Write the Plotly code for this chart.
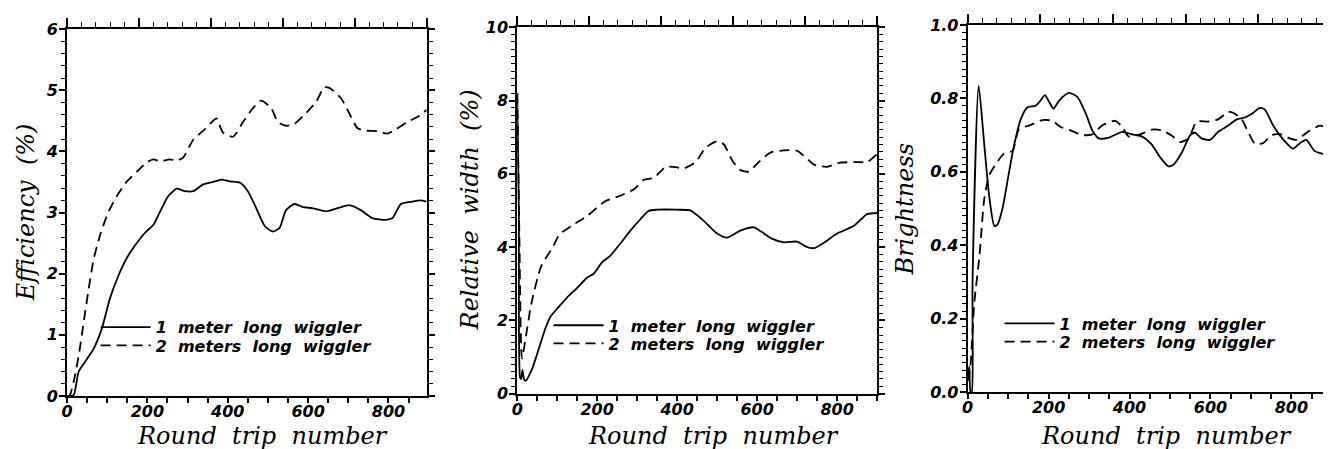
import plotly.graph_objects as go

# ---------------- data ----------------
# Panel 1: Efficiency (%)
eff_1m_x = [0, 10, 17, 29, 45, 66, 87, 107, 128, 149, 169, 194, 215, 231, 252, 273, 293, 314, 339, 364,
            384, 405, 430, 450, 471, 492, 512, 529, 545, 566, 587, 612, 645, 678, 702, 731, 760, 793,
            810, 831, 860, 880, 895]
eff_1m_y = [0, 0, 0.02, 0.40, 0.56, 0.77, 1.11, 1.60, 1.97, 2.26, 2.46, 2.67, 2.80, 3.01, 3.27, 3.39, 3.35,
            3.35, 3.46, 3.50, 3.54, 3.51, 3.49, 3.35, 3.07, 2.78, 2.69, 2.75, 3.04, 3.14, 3.09, 3.07, 3.02,
            3.08, 3.12, 3.04, 2.91, 2.88, 2.91, 3.14, 3.18, 3.20, 3.18]
eff_2m_x = [0, 6, 17, 29, 41, 54, 66, 83, 103, 124, 149, 174, 198, 215, 231, 256, 273, 289, 314, 339, 360,
            372, 388, 413, 438, 463, 483, 508, 525, 545, 566, 595, 620, 640, 653, 682, 702, 723, 744, 773,
            797, 818, 847, 876, 895]
eff_2m_y = [0, 0, 0.25, 0.66, 1.19, 1.76, 2.23, 2.65, 3.01, 3.27, 3.51, 3.67, 3.82, 3.87, 3.84, 3.87, 3.85,
            3.90, 4.19, 4.34, 4.48, 4.54, 4.31, 4.24, 4.48, 4.71, 4.83, 4.71, 4.48, 4.42, 4.45, 4.63, 4.81,
            5.05, 5.04, 4.87, 4.63, 4.38, 4.34, 4.33, 4.29, 4.36, 4.48, 4.58, 4.68]

# Panel 2: Relative width (%)
wid_1m_x = [0, 4, 7, 10, 13, 17, 21, 37, 54, 71, 83, 104, 125, 150, 175, 192, 212, 233, 258, 283, 308, 329,
            350, 400, 433, 467, 500, 525, 558, 592, 612, 637, 667, 700, 721, 742, 767, 800, 842, 875, 900]
wid_1m_y = [8.2, 5.0, 0.45, 0.40, 0.65, 0.40, 0.35, 0.67, 1.23, 1.80, 2.10, 2.37, 2.63, 2.89, 3.17, 3.28, 3.58,
            3.77, 4.10, 4.45, 4.76, 4.99, 5.02, 5.02, 5.00, 4.71, 4.37, 4.26, 4.45, 4.54, 4.41, 4.23, 4.13,
            4.15, 4.02, 3.97, 4.12, 4.37, 4.58, 4.90, 4.93]
wid_2m_x = [0, 5, 10, 12, 35, 60, 89, 106, 135, 177, 218, 250, 292, 317, 342, 371, 392, 417, 446, 471, 500,
            517, 537, 558, 579, 600, 633, 667, 700, 721, 742, 775, 804, 850, 875, 900]
wid_2m_y = [8.2, 4.6, 1.2, 0.96, 2.44, 3.48, 4.00, 4.35, 4.57, 4.87, 5.24, 5.37, 5.58, 5.84, 5.89, 6.19, 6.19,
            6.15, 6.32, 6.71, 6.89, 6.80, 6.38, 6.10, 6.06, 6.28, 6.58, 6.64, 6.63, 6.45, 6.25, 6.19, 6.30,
            6.32, 6.32, 6.54]

# Panel 3: Brightness
bri_1m_x = [0, 4, 7, 10, 12, 27, 41, 53, 66, 74, 86, 103, 115, 131, 148, 168, 180, 191, 201, 212, 226, 250,
            271, 291, 308, 324, 349, 382, 406, 431, 455, 476, 496, 509, 529, 550, 562, 578, 599, 619, 644,
            665, 685, 706, 722, 734, 755, 771, 788, 804, 821, 837, 857, 874, 898]
bri_1m_y = [0.04, 0.07, 0.0, 0.0, 0.30, 0.835, 0.674, 0.535, 0.452, 0.457, 0.50, 0.604, 0.674, 0.743, 0.776,
            0.780, 0.794, 0.809, 0.791, 0.772, 0.794, 0.815, 0.804, 0.761, 0.713, 0.691, 0.693, 0.709,
            0.702, 0.696, 0.674, 0.639, 0.615, 0.620, 0.652, 0.700, 0.707, 0.691, 0.687, 0.709, 0.726,
            0.743, 0.748, 0.761, 0.774, 0.770, 0.726, 0.700, 0.678, 0.663, 0.678, 0.687, 0.657, 0.650,
            0.643]
bri_2m_x = [0, 6, 16, 29, 41, 53, 70, 90, 111, 127, 152, 185, 209, 230, 254, 283, 308, 332, 365, 382, 398,
            431, 455, 480, 505, 525, 546, 566, 595, 619, 644, 656, 677, 693, 710, 730, 751, 775, 796, 812,
            841, 870, 882, 898]
bri_2m_y = [0.03, 0.06, 0.239, 0.37, 0.526, 0.59, 0.622, 0.65, 0.657, 0.717, 0.726, 0.741, 0.739, 0.722,
            0.713, 0.700, 0.702, 0.726, 0.739, 0.722, 0.696, 0.704, 0.715, 0.713, 0.698, 0.681, 0.691,
            0.737, 0.737, 0.743, 0.763, 0.761, 0.743, 0.709, 0.676, 0.678, 0.700, 0.702, 0.691, 0.687,
            0.709, 0.726, 0.723, 0.722]

series_names = ["1  meter  long  wiggler", "2  meters  long  wiggler"]
x_title = "Round  trip  number"
y_titles = ["Efficiency  (%)", "Relative  width  (%)", "Brightness"]
x_ranges = [[0, 895], [0, 900], [0, 898]]
y_ranges = [[0, 6], [0, 10], [0, 1.0]]
y_dticks = [1, 2, 0.2]
y_minor = [0.2, 0.2, 0.02]
y_formats = ["d", "d", ".1f"]

# ---------------- styling ----------------
W, H = 1331, 449
TICKFONT = dict(family="DejaVu Sans", size=16, color="black", weight="bold", style="italic")
TITLEFONT = dict(family="DejaVu Serif", size=24, color="black", style="italic")
LEGFONT = dict(family="DejaVu Sans", size=16, color="black", weight="bold", style="italic")

# plot-area pixel boxes (left, right, top, bottom)
boxes = [(53.3, 414.5, 12.7, 395.7), (505.5, 867.0, 10.7, 393.3), (958.0, 1323.0, 8.3, 391.7)]
xt_centers = [250, 703, 1158]
yt_centers = [(12, 204), (459, 201), (895, 200)]
leg_x = [82, 537, 990]
leg_rows = [(324, 343), (322, 341), (320, 339)]

panels = [
    (eff_1m_x, eff_1m_y, eff_2m_x, eff_2m_y),
    (wid_1m_x, wid_1m_y, wid_2m_x, wid_2m_y),
    (bri_1m_x, bri_1m_y, bri_2m_x, bri_2m_y),
]

fig = go.Figure()
layout = dict(
    width=W, height=H, margin=dict(l=0, r=0, t=0, b=0),
    paper_bgcolor="white", plot_bgcolor="white", showlegend=True, annotations=[],
)

for i, (xs, ys, xd, yd) in enumerate(panels):
    n = i + 1
    xa = "x" if n == 1 else f"x{n}"
    ya = "y" if n == 1 else f"y{n}"
    leg_a = "legend" if n == 1 else f"legend{n}"
    leg_b = f"legend{n + 3}"
    fig.add_trace(go.Scatter(x=xs, y=ys, mode="lines", name=series_names[0], xaxis=xa, yaxis=ya,
                             line=dict(color="black", width=1.8, shape="spline", smoothing=0.6),
                             legend=leg_a))
    fig.add_trace(go.Scatter(x=xd, y=yd, mode="lines", name=series_names[1], xaxis=xa, yaxis=ya,
                             line=dict(color="black", width=1.8, dash="10px,6px", shape="spline", smoothing=0.6),
                             legend=leg_b))
    l, r, t, b = boxes[i]
    xdom = [l / W, r / W]
    ydom = [1 - b / H, 1 - t / H]
    layout["xaxis" if n == 1 else f"xaxis{n}"] = dict(
        domain=xdom, range=x_ranges[i], anchor=ya, showline=True, linecolor="black", linewidth=2,
        mirror=False, showgrid=False, zeroline=False, ticks="outside", ticklen=5, tickwidth=1.5,
        tickcolor="black", tickmode="linear", tick0=0, dtick=200, tickfont=TICKFONT, ticklabelstandoff=-5,
        minor=dict(dtick=50, tick0=0, ticks="outside", ticklen=5, tickwidth=1.5, tickcolor="black", showgrid=False),
    )
    layout["yaxis" if n == 1 else f"yaxis{n}"] = dict(
        domain=ydom, range=y_ranges[i], anchor=xa, showline=True, linecolor="black", linewidth=2,
        mirror="ticks", showgrid=False, zeroline=False, ticks="outside", ticklen=6, tickwidth=1.5,
        tickcolor="black", tickmode="linear", tick0=0, dtick=y_dticks[i], tickformat=y_formats[i],
        tickfont=TICKFONT, ticklabelstandoff=-2,
        minor=dict(dtick=y_minor[i], tick0=0, ticks="outside", ticklen=4, tickwidth=1.2, tickcolor="black", showgrid=False),
    )
    # top axis (independent tick spacing)
    layout[f"xaxis{n + 3}"] = dict(
        overlaying=xa, side="top", anchor=ya, range=[0, 1], showline=True, linecolor="black", linewidth=2,
        showgrid=False, zeroline=False, showticklabels=False, ticks="outside", ticklen=9, tickwidth=1.5,
        tickcolor="black", tickmode="linear", tick0=0, dtick=0.2,
        minor=dict(dtick=0.04, tick0=0, ticks="outside", ticklen=5, tickwidth=1.2, tickcolor="black", showgrid=False),
    )
    r1, r2 = leg_rows[i]
    for leg, ry in ((leg_a, r1), (leg_b, r2)):
        layout[leg] = dict(x=leg_x[i] / W, y=1 - ry / H, xanchor="left", yanchor="middle", font=LEGFONT,
                           bgcolor="rgba(0,0,0,0)", borderwidth=0, itemwidth=50, tracegroupgap=0)
    layout["annotations"].append(dict(text=x_title, x=xt_centers[i] / W, y=1 - 437 / H, xref="paper",
                                      yref="paper", showarrow=False, font=TITLEFONT,
                                      xanchor="center", yanchor="middle"))
    cx, cy = yt_centers[i]
    layout["annotations"].append(dict(text=y_titles[i], x=cx / W, y=1 - cy / H, xref="paper",
                                      yref="paper", showarrow=False, font=TITLEFONT, textangle=-90,
                                      xanchor="center", yanchor="middle"))

# dummy traces to activate top axes
for n in range(1, 4):
    ya = "y" if n == 1 else f"y{n}"
    fig.add_trace(go.Scatter(x=[None], y=[None], xaxis=f"x{n + 3}", yaxis=ya, showlegend=False,
                             hoverinfo="skip"))

fig.update_layout(**layout)
fig.write_html("out.html")
